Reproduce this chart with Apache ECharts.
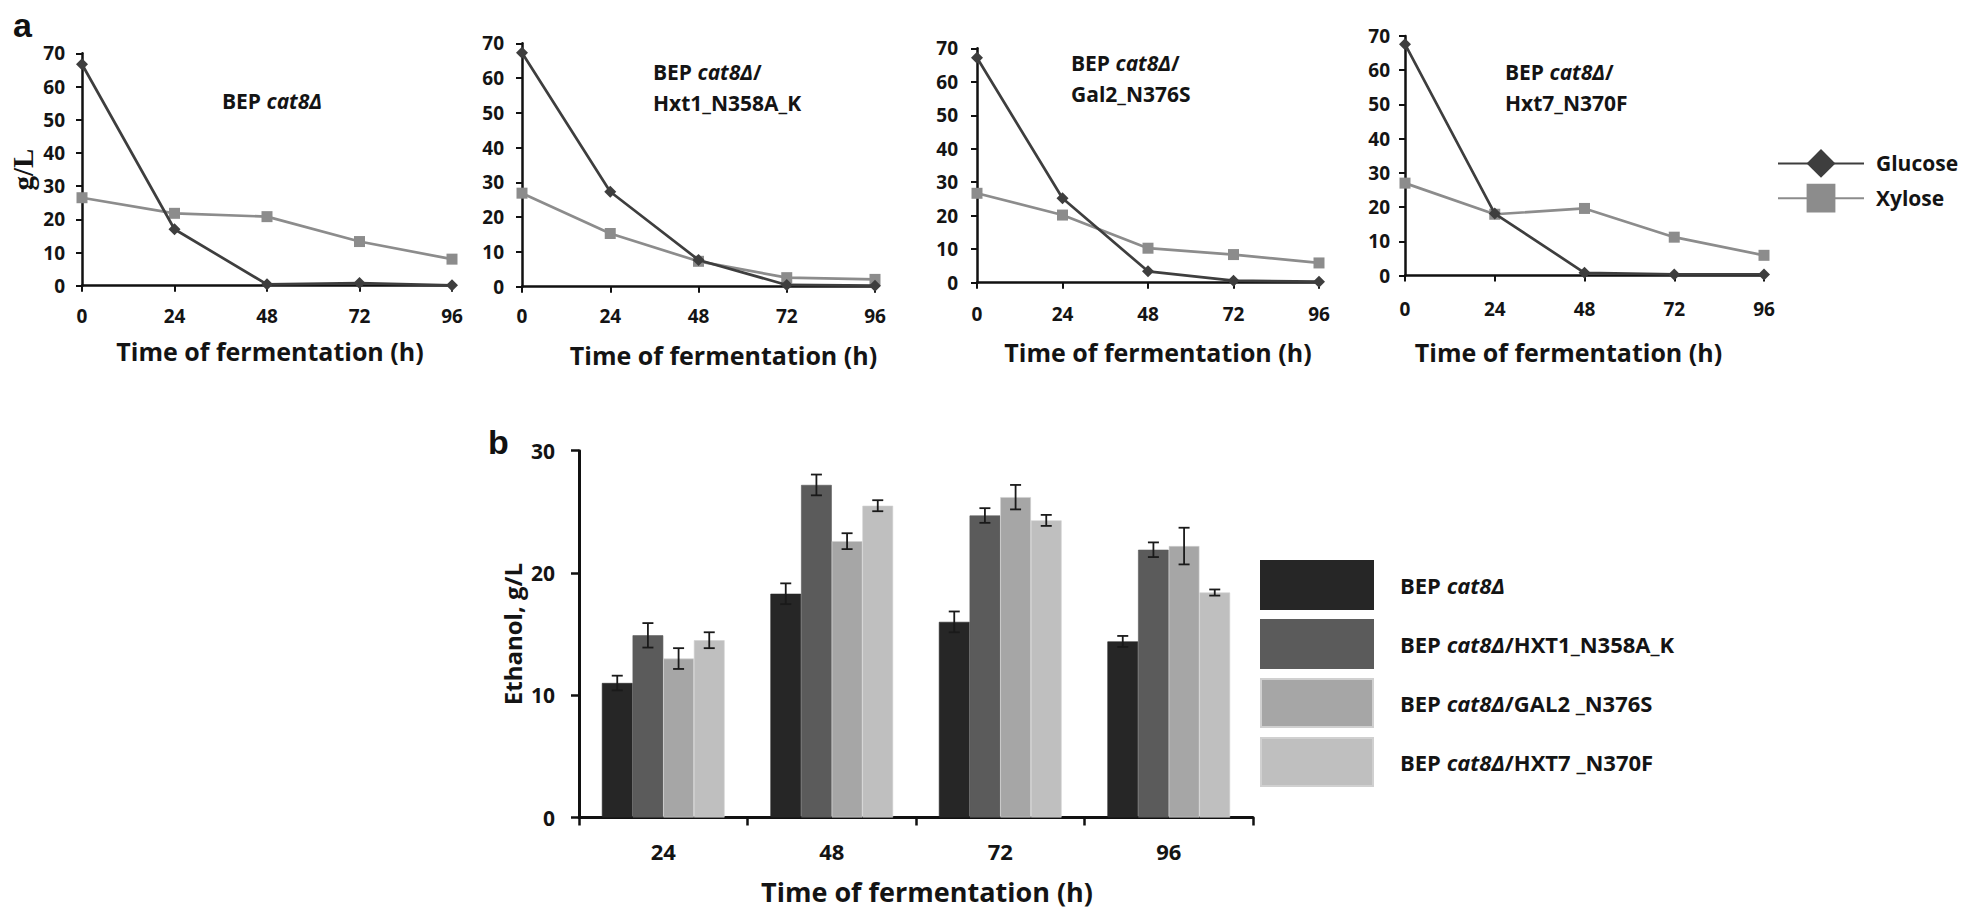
<!DOCTYPE html>
<html>
<head>
<meta charset="utf-8">
<script src="https://cdn.jsdelivr.net/npm/echarts@6.0.0/dist/echarts.min.js"></script>
<style>
html,body{margin:0;padding:0;background:#fff;}
#chart{width:1961px;height:912px;}
</style>
</head>
<body>
<div id="chart"></div>
<script>
// ---------- DATA ----------
const hours = [0, 24, 48, 72, 96];
const yTicksA = [0, 10, 20, 30, 40, 50, 60, 70];

const glucose1 = [66.7, 17.0, 0.4, 0.8, 0.1];
const xylose1  = [26.5, 21.8, 20.8, 13.3, 8.0];
const glucose2 = [67.3, 27.3, 7.7, 0.5, 0.3];
const xylose2  = [26.9, 15.3, 7.3, 2.6, 2.1];
const glucose3 = [67.2, 25.2, 3.4, 0.6, 0.3];
const xylose3  = [26.7, 20.2, 10.3, 8.4, 5.9];
const glucose4 = [67.6, 18.1, 0.8, 0.3, 0.3];
const xylose4  = [27.0, 17.9, 19.6, 11.2, 5.9];

const panelTitles = [
  ['BEP |cat8Δ|', ''],
  ['BEP |cat8Δ|/', 'Hxt1_N358A_K'],
  ['BEP |cat8Δ|/', 'Gal2_N376S'],
  ['BEP |cat8Δ|/', 'Hxt7_N370F']
];

const ethanolCats = ['24', '48', '72', '96'];
const strainNames = ['BEP cat8Δ', 'BEP cat8Δ/HXT1_N358A_K', 'BEP cat8Δ/GAL2 _N376S', 'BEP cat8Δ/HXT7 _N370F'];
const ethanol1 = [11.0, 18.3, 16.0, 14.4];
const ethanol2 = [14.9, 27.2, 24.7, 21.9];
const ethanol3 = [13.0, 22.6, 26.2, 22.2];
const ethanol4 = [14.5, 25.5, 24.3, 18.4];
const err1 = [0.6, 0.85, 0.85, 0.45];
const err2 = [1.0, 0.85, 0.6, 0.6];
const err3 = [0.85, 0.65, 1.0, 1.5];
const err4 = [0.65, 0.45, 0.45, 0.25];

// ---------- STYLE / LAYOUT ----------
const FONT = '"Open Sans", Lato, sans-serif';
const TXT = '#141414';
const glucoseColor = '#3e3e3e';
const xyloseColor = '#8c8c8c';
const barColors = ['#262626', '#5b5b5b', '#a6a6a6', '#bfbfbf'];
const BAR_FRAC = 0.182;

const gridsA = [
  {left: 82,   top: 53.3, width: 370, height: 232.4},
  {left: 522,  top: 43.3, width: 353, height: 243.4},
  {left: 977,  top: 48.3, width: 342, height: 234.4},
  {left: 1405, top: 36,   width: 359, height: 239.5}
];
const xLabelMargin = [21, 20, 22, 24];
const yLabelMargin = [17, 18, 19, 15];
const xNameGap = [53, 56, 57, 64];
const xNamePad = [[0,0,0,6], [0,0,0,50], [0,0,0,20], [0,32,0,0]];
const titlePos = [
  {left: 222, top: 85},
  {left: 653, top: 56},
  {left: 1071, top: 47},
  {left: 1505, top: 56}
];

const glucoseSets = [glucose1, glucose2, glucose3, glucose4];
const xyloseSets = [xylose1, xylose2, xylose3, xylose4];
const ethanolSets = [ethanol1, ethanol2, ethanol3, ethanol4];
const errSets = [err1, err2, err3, err4];

const richStyles = (size) => ({
  n: {fontFamily: FONT, fontWeight: 'bold', fontSize: size, color: TXT, lineHeight: 31},
  i: {fontFamily: FONT, fontWeight: 'bold', fontStyle: 'italic', fontSize: size, color: TXT, lineHeight: 31}
});

function titleText(lines) {
  const parts = lines[0].split('|');
  let s = '{n|' + parts[0] + '}{i|' + parts[1] + '}';
  if (parts[2]) s += '{n|' + parts[2] + '}';
  if (lines[1]) s += '\n{n|' + lines[1] + '}';
  return s;
}

const grids = [];
const xAxes = [];
const yAxes = [];
const series = [];
const titles = [];

for (let p = 0; p < 4; p++) {
  grids.push(Object.assign({outerBoundsMode: 'none', containLabel: false}, gridsA[p]));
  xAxes.push({
    type: 'value', gridIndex: p, min: hours[0], max: hours[hours.length - 1], interval: 24,
    axisLine: {show: true, onZero: false, lineStyle: {color: '#111', width: 2.5}},
    axisTick: {show: true, length: 6, lineStyle: {color: '#111', width: 2}},
    splitLine: {show: false},
    axisLabel: {margin: xLabelMargin[p], fontFamily: FONT, fontWeight: 'bold', fontSize: 19, color: TXT},
    name: 'Time of fermentation (h)', nameLocation: 'middle', nameGap: xNameGap[p],
    nameTextStyle: {fontFamily: FONT, fontWeight: 'bold', fontSize: 25, color: TXT, padding: xNamePad[p], verticalAlign: 'top'}
  });
  yAxes.push({
    type: 'value', gridIndex: p, min: yTicksA[0], max: yTicksA[yTicksA.length - 1], interval: 10,
    axisLine: {show: true, lineStyle: {color: '#111', width: 2.5}},
    axisTick: {show: true, length: 6, lineStyle: {color: '#111', width: 2}},
    splitLine: {show: false},
    axisLabel: {margin: yLabelMargin[p], fontFamily: FONT, fontWeight: 'bold', fontSize: 19, color: TXT}
  });
  series.push({
    type: 'line', name: 'Glucose', xAxisIndex: p, yAxisIndex: p,
    data: hours.map((h, i) => [h, glucoseSets[p][i]]),
    symbol: 'diamond', symbolSize: 12,
    lineStyle: {color: glucoseColor, width: 2.7},
    itemStyle: {color: glucoseColor},
    z: 3
  });
  series.push({
    type: 'line', name: 'Xylose', xAxisIndex: p, yAxisIndex: p,
    data: hours.map((h, i) => [h, xyloseSets[p][i]]),
    symbol: 'rect', symbolSize: 11,
    lineStyle: {color: xyloseColor, width: 2.7},
    itemStyle: {color: xyloseColor},
    z: 2
  });
  titles.push({
    left: titlePos[p].left, top: titlePos[p].top, padding: 0,
    text: titleText(panelTitles[p]),
    textStyle: {fontFamily: FONT, fontWeight: 'bold', fontSize: 21, color: TXT, lineHeight: 31, rich: richStyles(21)}
  });
}

// Panel a: y axis name only on first panel
yAxes[0].name = 'g/L';
yAxes[0].nameLocation = 'middle';
yAxes[0].nameGap = 45;
yAxes[0].nameRotate = 90;
yAxes[0].nameTextStyle = {fontFamily: '"Liberation Serif", "DejaVu Serif", serif', fontWeight: 'bold', fontSize: 29, color: TXT};

// Panel b
grids.push({left: 579, top: 450.7, width: 674, height: 366.8, outerBoundsMode: 'none', containLabel: false});
xAxes.push({
  type: 'category', gridIndex: 4, data: ethanolCats,
  axisLine: {show: true, lineStyle: {color: '#111', width: 3}},
  axisTick: {show: true, length: 8, alignWithLabel: false, lineStyle: {color: '#111', width: 2.5}},
  axisLabel: {margin: 22, fontFamily: FONT, fontWeight: 'bold', fontSize: 22, color: TXT},
  name: 'Time of fermentation (h)', nameLocation: 'middle', nameGap: 60,
  nameTextStyle: {fontFamily: FONT, fontWeight: 'bold', fontSize: 27, color: TXT, padding: [0,0,0,22], verticalAlign: 'top'}
});
yAxes.push({
  type: 'value', gridIndex: 4, min: 0, max: 30, interval: 10,
  axisLine: {show: true, lineStyle: {color: '#111', width: 3}},
  axisTick: {show: true, length: 8, lineStyle: {color: '#111', width: 2.5}},
  splitLine: {show: false},
  axisLabel: {margin: 24, fontFamily: FONT, fontWeight: 'bold', fontSize: 21, color: TXT},
  name: 'Ethanol, g/L', nameLocation: 'middle', nameGap: 55, nameRotate: 90,
  nameTextStyle: {fontFamily: FONT, fontWeight: 'bold', fontSize: 24, color: TXT}
});

for (let k = 0; k < 4; k++) {
  series.push({
    type: 'bar', name: strainNames[k], xAxisIndex: 4, yAxisIndex: 4,
    data: ethanolSets[k],
    barWidth: (BAR_FRAC * 100) + '%', barGap: '0%',
    itemStyle: {color: barColors[k], borderColor: k < 2 ? barColors[k] : '#d0d0d0', borderWidth: 0.6},
    z: 2
  });
}
for (let k = 0; k < 4; k++) {
  series.push({
    type: 'custom', name: 'err' + k, xAxisIndex: 4, yAxisIndex: 4,
    data: ethanolSets[k].map((v, i) => [i, v - errSets[k][i], v + errSets[k][i]]),
    encode: {x: 0, y: [1, 2]},
    z: 5, silent: true,
    renderItem: function (params, api) {
      const ci = api.value(0);
      const lo = api.coord([ci, api.value(1)]);
      const hi = api.coord([ci, api.value(2)]);
      const band = api.size([1, 0])[0];
      const bw = band * BAR_FRAC;
      const x = lo[0] + (k - 1.5) * bw;
      const cw = 5.5;
      const st = {stroke: '#1a1a1a', lineWidth: 1.8};
      return {
        type: 'group',
        children: [
          {type: 'line', shape: {x1: x, y1: lo[1], x2: x, y2: hi[1]}, style: st},
          {type: 'line', shape: {x1: x - cw, y1: lo[1], x2: x + cw, y2: lo[1]}, style: st},
          {type: 'line', shape: {x1: x - cw, y1: hi[1], x2: x + cw, y2: hi[1]}, style: st}
        ]
      };
    }
  });
}

function legendFmt(name) {
  const idx = name.indexOf('cat8Δ');
  if (idx < 0) return '{n|' + name + '}';
  const pre = name.slice(0, idx);
  const post = name.slice(idx + 5);
  return '{n|' + pre + '}{i|cat8Δ}' + (post ? '{n|' + post + '}' : '');
}

const option = {
  animation: false,
  backgroundColor: '#ffffff',
  textStyle: {fontFamily: FONT},
  title: titles,
  grid: grids,
  xAxis: xAxes,
  yAxis: yAxes,
  legend: [
    {
      data: ['Glucose', 'Xylose'], orient: 'vertical', left: 1777, top: 149,
      itemWidth: 86, itemHeight: 36, itemGap: 6, padding: 0, selectedMode: false,
      textStyle: {fontFamily: FONT, fontWeight: 'bold', fontSize: 21, color: TXT, padding: [0, 0, 0, 7]}
    },
    {
      data: strainNames, orient: 'vertical', left: 1260, top: 560,
      itemWidth: 112, itemHeight: 48, itemGap: 9, padding: 0, icon: 'rect', selectedMode: false,
      formatter: legendFmt,
      textStyle: {
        fontFamily: FONT, fontWeight: 'bold', fontSize: 22, color: TXT, padding: [0, 0, 0, 22],
        rich: {
          n: {fontFamily: FONT, fontWeight: 'bold', fontSize: 22, color: TXT},
          i: {fontFamily: FONT, fontWeight: 'bold', fontStyle: 'italic', fontSize: 22, color: TXT}
        }
      }
    }
  ],
  graphic: [
    {type: 'text', left: 13, top: 8, style: {text: 'a', font: 'bold 34px "Liberation Sans", Arial, sans-serif', fill: '#111'}},
    {type: 'text', left: 488, top: 425, style: {text: 'b', font: 'bold 34px "Liberation Sans", Arial, sans-serif', fill: '#111'}}
  ],
  series: series
};

const chart = echarts.init(document.getElementById('chart'), null, {renderer: 'svg', width: 1961, height: 912});
chart.setOption(option);
</script>
</body>
</html>
